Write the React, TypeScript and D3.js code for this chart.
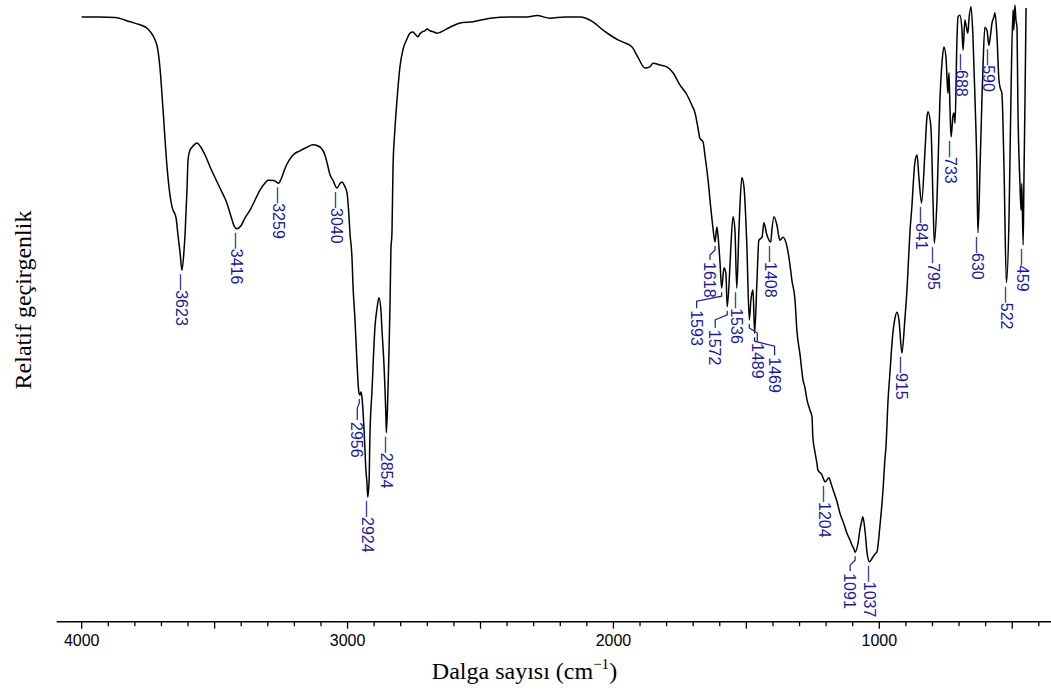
import React from 'react';
import * as d3 from 'd3';

// ---- Spectrum data: [wavenumber (cm-1), relative transmittance] ----
const hydroxylRegion: [number, number][] = [
  [4000, 100.5], [3931, 100.5], [3875, 100.4], [3818, 99.7], [3781, 99.2], [3751, 98.5],
  [3717, 95.8], [3706, 92.2], [3694, 85], [3679, 75.5], [3668, 70.8], [3660, 68.8],
  [3645, 67], [3638, 64.2], [3630, 61.2], [3623, 58.3], [3615, 61.7], [3611, 64.5],
  [3604, 71.7], [3600, 76.7], [3593, 78.3], [3585, 78.8], [3574, 79.3], [3566, 79.5],
  [3555, 79], [3536, 77.5], [3517, 75.5], [3480, 72], [3454, 69.5], [3438, 67.2],
  [3427, 65.7], [3416, 65.2], [3401, 65.7], [3386, 67], [3367, 68.3], [3348, 70],
  [3329, 71.7], [3311, 72.8], [3299, 73.3], [3277, 73.25], [3259, 72.8], [3250, 73.5],
  [3235, 75.3], [3205, 77.5], [3179, 78.2], [3153, 78.8], [3130, 79.2], [3111, 79],
  [3100, 78.7], [3085, 77.5], [3077, 76.2], [3066, 74.2], [3055, 73.3], [3040, 72],
  [3029, 72.7], [3021, 73], [3010, 72.2], [3002, 71.2],
];

const alkylRegion: [number, number][] = [
  [2995, 67.5], [2991, 64.5], [2983, 60], [2980, 56.2], [2972, 50], [2965, 43.3],
  [2957, 37.8], [2953, 37.5], [2950, 38], [2946, 37.2], [2938, 31.7], [2931, 25],
  [2927, 22.8], [2924, 20.5], [2919, 23.3], [2916, 30.5], [2908, 38.3], [2897, 48.8],
  [2889, 52], [2882, 53.7], [2874, 51.3], [2871, 48.7], [2863, 42.5], [2859, 38.3],
  [2856, 34.2], [2854, 31.2], [2848, 38.3], [2844, 45], [2840, 53.3], [2837, 61.7],
  [2833, 64.5], [2829, 75.5], [2822, 81.7], [2814, 86.7], [2803, 92.2], [2792, 95],
  [2777, 96.8], [2765, 97.8], [2754, 98], [2743, 97.5], [2735, 97.2], [2728, 97.7],
  [2720, 98], [2709, 98.2], [2701, 98.5], [2690, 98.2], [2675, 98], [2664, 97.8],
];

const middleRegion: [number, number][] = [
  [2615, 98.8], [2577, 99.5], [2528, 99.7], [2464, 100.3], [2389, 100.5], [2325, 100.5],
  [2288, 100.75], [2239, 100.3], [2182, 100.5], [2126, 100.5], [2077, 99.7], [2039, 98.3],
  [2013, 97.5], [1983, 96.7], [1964, 96.3], [1930, 95.5], [1908, 93.8], [1881, 92],
  [1863, 92.2], [1851, 92.8], [1825, 92.5], [1799, 92.2], [1776, 91.2], [1750, 89.2],
  [1723, 87.5], [1705, 85.8],
];

const aromaticRegion: [number, number][] = [
  [1693, 84.5], [1682, 82], [1675, 80.3], [1663, 79.7], [1656, 77.5], [1644, 73.3],
  [1633, 68.3], [1626, 65.5], [1618, 63], [1611, 65.5], [1607, 64.2], [1599, 59.5],
  [1593, 55.3], [1584, 58.7], [1577, 57.8], [1572, 52.2], [1562, 58.8], [1558, 62.5],
  [1550, 67.2], [1543, 65], [1536, 55.3], [1528, 65], [1524, 69.2], [1517, 73.7],
  [1509, 72.2], [1502, 66.7], [1498, 62.2], [1489, 50], [1483, 53.3], [1479, 54.5],
  [1475, 55], [1469, 47.8], [1460, 56.7], [1453, 63.3], [1441, 63.8], [1434, 66.2],
  [1423, 64.2], [1408, 63], [1404, 65], [1396, 67.2], [1385, 65.8], [1374, 63.3],
  [1362, 63.8], [1347, 62.2], [1336, 59.2], [1329, 56.7], [1317, 53.3], [1310, 48.3],
  [1298, 44.2], [1287, 40], [1280, 38.8], [1272, 36.7], [1261, 35], [1253, 33.8],
  [1250, 30.5], [1242, 28], [1235, 26.2], [1231, 25], [1216, 24.2], [1208, 23.3],
  [1204, 23], [1189, 23.7], [1182, 22.8], [1174, 21.7], [1159, 19.7], [1148, 17.8],
  [1133, 16], [1122, 14.5], [1110, 13.3], [1103, 12.5], [1095, 11.8], [1091, 11.3],
  [1080, 12.8], [1073, 15], [1065, 16.7], [1062, 17.2], [1054, 15], [1046, 11.2],
  [1037, 9.7], [1024, 10.5], [1016, 11], [1009, 11.3],
];

const fingerprintRegion: [number, number][] = [
  [998, 15.5], [986, 21.7], [979, 26.7], [975, 28.8], [967, 36.7], [960, 41.2],
  [949, 47.8], [941, 50.3], [934, 51.3], [926, 50], [922, 47.8], [915, 44.5],
  [904, 50], [896, 55], [892, 58.3], [885, 64.5], [877, 69.2], [873, 72.2],
  [866, 76.3], [858, 77.5], [851, 73.8], [841, 69.5], [828, 78.3], [821, 83.7],
  [817, 84.7], [806, 82.2], [798, 70], [793, 62.8], [783, 70], [772, 86.7],
  [764, 93], [757, 95.5], [749, 93.7], [742, 87.8], [738, 91.2], [734, 85],
  [730, 80.5], [723, 84], [719, 84.5], [715, 82.8], [708, 96.7], [704, 100.5],
  [697, 100.8], [689, 98.3], [685, 95], [678, 100], [674, 99.2], [667, 97.8],
  [663, 100], [655, 102.2], [648, 97.5], [640, 86.7], [633, 75.5], [629, 64.5],
  [621, 75.5], [614, 86.7], [610, 92.2], [603, 98.8], [595, 98.3], [588, 95.8],
  [584, 96.7], [576, 99.5], [569, 100.5], [565, 101.2], [558, 97.8], [550, 90],
  [546, 88.8], [539, 87.8], [531, 75.5], [522, 56.2], [512, 67.2], [505, 86.7],
  [497, 101.7], [494, 98.3], [490, 102.5], [486, 100], [482, 98.8], [479, 86.7],
  [471, 72.8], [467, 68.3], [464, 72.8], [459, 62.5], [456, 73.3], [452, 86.7],
  [448, 102],
];

// ---- Peak labels (cm-1) ----
const peakLabels: number[] = [
  3623, 3416, 3259, 3040, 2956, 2924, 2854, 1618, 1593, 1572, 1536, 1489, 1469, 1408,
  1204, 1091, 1037, 915, 841, 795, 733, 688, 630, 590, 522, 459,
];

// ---- Axis ----
const axisLabelTicks: number[] = [4000, 3000, 2000, 1000];
const axisDomain: [number, number] = [4094, 354];

// Layout of displaced labels: [text shift x, extra shift y] (px)
const labelLayout: Record<number, [number, number]> = {
  2956: [-2, 7],
  1618: [-5, 0],
  1593: [-25, 2],
  1572: [-12, 3],
  1489: [8, 3],
  1469: [20, 4],
  1091: [-5, 1],
};

const NAVY = '#1a1a96';
const SANS = '"Liberation Sans", Arial, Helvetica, sans-serif';
const SERIF = '"Liberation Serif", "Times New Roman", Times, serif';

export default function App() {
  const width = 1051;
  const height = 693;
  const x = d3.scaleLinear().domain([4000, 1000]).range([81.7, 879.3]);
  const y = d3.scaleLinear().domain([0, 100]).range([620, 20]);

  const data: [number, number][] = [
    ...hydroxylRegion,
    ...alkylRegion,
    ...middleRegion,
    ...aromaticRegion,
    ...fingerprintRegion,
  ];

  const line = d3
    .line<[number, number]>()
    .x((d) => x(d[0]))
    .y((d) => y(d[1]))
    .curve(d3.curveMonotoneX);

  const dipValue = (w: number) => {
    const near = data.filter((d) => Math.abs(d[0] - w) <= 8);
    return d3.min(near, (d) => d[1]) ?? 50;
  };

  const axisY = 621.7;
  const ticks = d3.range(4000, 399, -100);

  return (
    <svg
      width={width}
      height={height}
      style={{ position: 'absolute', left: 0, top: 0, background: '#fff' }}
    >
      <rect width={width} height={height} fill="#fff" />
      {/* spectrum */}
      <path d={line(data) ?? ''} fill="none" stroke="#000" strokeWidth={1.5} strokeLinejoin="round" />

      {/* peak labels */}
      {peakLabels.map((w) => {
        const px = x(w);
        const py = y(dipValue(w));
        const y0 = py + 4;
        const lay = labelLayout[w];
        if (!lay) {
          return (
            <text
              key={w}
              transform={`translate(${px},${y0}) rotate(90)`}
              dy="0.36em"
              fontFamily={SANS}
              fontSize={16}
              fill={NAVY}
            >
              {'\u2014' + w}
            </text>
          );
        }
        const tx = px + lay[0];
        const ty = y0 + 16 + lay[1];
        const d = `M${px},${y0} L${px},${y0 + 4} L${tx},${y0 + 9} L${tx},${ty - 2}`;
        return (
          <g key={w}>
            <path d={d} fill="none" stroke={NAVY} strokeWidth={1.2} />
            <text
              transform={`translate(${tx},${ty}) rotate(90)`}
              dy="0.36em"
              fontFamily={SANS}
              fontSize={16}
              fill={NAVY}
            >
              {String(w)}
            </text>
          </g>
        );
      })}

      {/* x axis */}
      <line x1={x(axisDomain[0])} x2={x(axisDomain[1])} y1={axisY} y2={axisY} stroke="#000" strokeWidth={1.5} />
      {ticks.map((t) => (
        <line
          key={t}
          x1={x(t)}
          x2={x(t)}
          y1={axisY}
          y2={axisY + (t % 500 === 0 ? 7 : 4.5)}
          stroke="#000"
          strokeWidth={1.3}
        />
      ))}
      {axisLabelTicks.map((t) => (
        <text key={t} x={x(t)} y={646} textAnchor="middle" fontFamily={SANS} fontSize={16} fill="#000">
          {t}
        </text>
      ))}
      <text x={524.5} y={679} textAnchor="middle" fontFamily={SERIF} fontSize={24} fill="#000">
        Dalga sayısı (cm
        <tspan dy={-10} fontSize={15}>
          {'\u22121'}
        </tspan>
        <tspan dy={10}>)</tspan>
      </text>

      {/* y axis title */}
      <text
        transform="translate(31,300) rotate(-90)"
        textAnchor="middle"
        fontFamily={SERIF}
        fontSize={24}
        fill="#000"
      >
        Relatif geçirgenlik
      </text>
    </svg>
  );
}
